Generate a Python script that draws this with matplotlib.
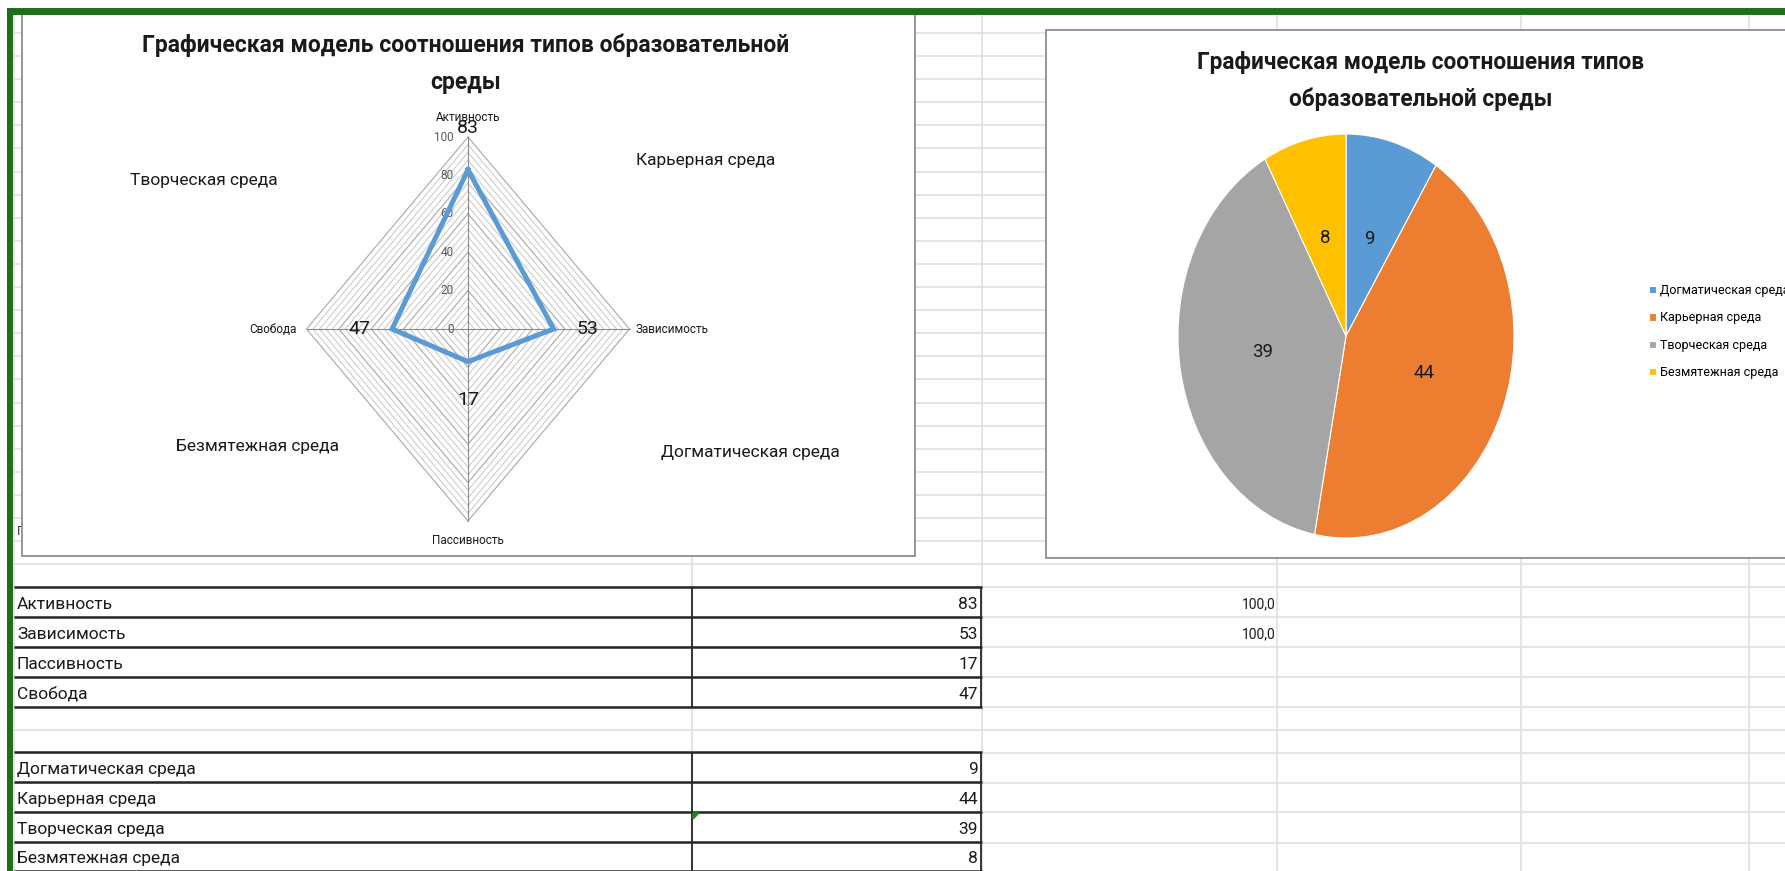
import numpy as np
import matplotlib
matplotlib.use("Agg")
import matplotlib.pyplot as plt
from matplotlib.patches import Rectangle, Polygon

# --- data -------------------------------------------------------------
radar_axes = ["Активность", "Зависимость", "Пассивность", "Свобода"]
radar_values = [83, 53, 17, 47]
radar_ticks = [0, 20, 40, 60, 80, 100]

env_types = ["Догматическая среда", "Карьерная среда",
             "Творческая среда", "Безмятежная среда"]
env_values = [9, 44, 39, 8]
env_colors = ["#5B9BD5", "#ED7D31", "#A5A5A5", "#FFC000"]

side_values = ["100,0", "100,0"]

title = "Графическая модель соотношения типов образовательной среды"

# --- page -------------------------------------------------------------
W, H = 1785, 871
plt.rcParams["font.family"] = ["Roboto", "DejaVu Sans"]
TXT = "#1a1a1a"
GRID = "#e0e0e0"
GREEN = "#1d6f1d"

fig = plt.figure(figsize=(W / 100, H / 100), dpi=100)
bg = fig.add_axes([0, 0, 1, 1])
bg.set_xlim(0, W)
bg.set_ylim(H, 0)
bg.axis("off")


def px_axes(x0, y0, x1, y1):
    return fig.add_axes([x0 / W, 1 - y1 / H, (x1 - x0) / W, (y1 - y0) / H])


# spreadsheet grid
rows = list(33 + 23.1 * np.arange(25)) + [617, 647, 677, 707, 730, 753, 783, 812, 843]
bg.hlines(rows, 13, W, color=GRID, lw=1.2, zorder=1)
bg.vlines([14, 692, 982, 1277, 1521, 1749], 14, H, color=GRID, lw=1.2, zorder=1)

# clipped cell text behind the left chart
bg.text(17, 531, "Г", fontsize=9, color="#3a2a4a", va="center", zorder=2)

# chart frames
bg.add_patch(Rectangle((22, 13), 893, 543, fc="white", ec="#8f8f8f", lw=1.3, zorder=3))
bg.add_patch(Rectangle((1046, 30), 800, 528, fc="white", ec="#8f8f8f", lw=1.3, zorder=3))

# tables
tab1 = [587, 617, 647, 677, 707]
tab2 = [752, 782, 812, 842, 871]
for lines in (tab1, tab2):
    bg.hlines(lines, 14, 982, color="#262626", lw=1.8, zorder=4)
    bg.vlines([692, 981], lines[0], lines[-1], color="#262626", lw=1.3, zorder=4)

for i, (name, val) in enumerate(zip(radar_axes, radar_values)):
    y = (tab1[i] + tab1[i + 1]) / 2 + 2
    bg.text(17, y, name, fontsize=12.5, color=TXT, va="center", zorder=5)
    bg.text(978, y, str(val), fontsize=12.5, color=TXT, va="center", ha="right", zorder=5)
for i, (name, val) in enumerate(zip(env_types, env_values)):
    y = (tab2[i] + tab2[i + 1]) / 2 + 2
    bg.text(17, y, name, fontsize=12.5, color=TXT, va="center", zorder=5)
    bg.text(978, y, str(val), fontsize=12.5, color=TXT, va="center", ha="right", zorder=5)
for i, s in enumerate(side_values):
    y = (tab1[i] + tab1[i + 1]) / 2 + 2
    bg.text(1276, y, s, fontsize=10, color=TXT, va="center", ha="right", zorder=5)

# small green error marker in a cell corner
bg.add_patch(Polygon([[693, 813], [699, 813], [693, 819]], color="#1d8a1d", zorder=5))

# green selection frame
bg.hlines(11.5, 7, W, color=GREEN, lw=5, zorder=10)
bg.vlines(10, 8, H, color=GREEN, lw=4.3, zorder=10)

# --- radar chart ------------------------------------------------------
words = title.split()
bg.text(466, 45, " ".join(words[:5]), fontsize=16.5, fontweight="bold",
        color=TXT, ha="center", va="center", zorder=6)
bg.text(466, 82, words[5], fontsize=16.5, fontweight="bold",
        color=TXT, ha="center", va="center", zorder=6)

# quadrant names
quad_pos = {"Творческая среда": (204, 180), "Карьерная среда": (706, 160),
            "Безмятежная среда": (257, 446), "Догматическая среда": (750, 452)}
for name, (x, y) in quad_pos.items():
    bg.text(x, y, name, fontsize=12.5, color=TXT, ha="center", va="center", zorder=6)

rad = px_axes(306.5, 137, 629.5, 521)
rad.set_xlim(-100, 100)
rad.set_ylim(-100, 100)
rad.axis("off")

theta = np.deg2rad(np.arange(len(radar_axes)) * 360 / len(radar_axes))
sx, sy = np.sin(theta), np.cos(theta)
cx, cy = np.append(sx, sx[0]), np.append(sy, sy[0])

for r in range(4, 101, 4):
    major = r % 20 == 0
    rad.plot(r * cx, r * cy, color="#a8a8a8" if major else "#c2c2c2",
             lw=0.8 if major else 0.65, clip_on=False, zorder=1)
for x, y in zip(sx, sy):
    rad.plot([0, 100 * x], [0, 100 * y], color="#8c8c8c", lw=0.8, clip_on=False, zorder=2)

vals = np.array(radar_values, dtype=float)
rad.plot(np.append(vals * sx, vals[0] * sx[0]), np.append(vals * sy, vals[0] * sy[0]),
         color="#5B9BD5", lw=3.6, solid_joinstyle="miter", clip_on=False, zorder=4)

for t in radar_ticks:
    rad.text(-9, t, str(t), fontsize=8.5, color="#595959", ha="right", va="center")

axis_label_r = [110, 104, 110, 106]
axis_ha = ["center", "left", "center", "right"]
for name, r, x, y, ha in zip(radar_axes, axis_label_r, sx, sy, axis_ha):
    rad.text(r * x, r * y, name, fontsize=8.5, color=TXT, ha=ha, va="center")

data_label_r = [104.7, 73.7, 37, 67.5]
for v, r, x, y in zip(radar_values, data_label_r, sx, sy):
    rad.text(r * x, r * y, str(v), fontsize=14, color=TXT, ha="center", va="center", zorder=5)

# --- pie chart --------------------------------------------------------
bg.text(1421, 62, " ".join(words[:4]), fontsize=16.3, fontweight="bold",
        color=TXT, ha="center", va="center", zorder=6)
bg.text(1421, 99, " ".join(words[4:]), fontsize=16.3, fontweight="bold",
        color=TXT, ha="center", va="center", zorder=6)

pie = px_axes(1178, 134, 1514, 538)
total = sum(env_values)
wedges, _, autotexts = pie.pie(
    env_values, colors=env_colors, startangle=90, counterclock=False,
    autopct=lambda p: f"{p * total / 100:.0f}", pctdistance=0.5,
    wedgeprops=dict(edgecolor="white", linewidth=0.8),
    textprops=dict(fontsize=13.5, color=TXT))
pie.set_aspect("auto")
pie.set_xlim(-1, 1)
pie.set_ylim(-1, 1)

fig.legend(wedges, env_types, loc="upper left",
           bbox_to_anchor=(1649 / W, 1 - 284 / H), frameon=False,
           fontsize=9, handlelength=0.55, handleheight=0.55,
           handletextpad=0.35, labelspacing=1.15, borderpad=0, borderaxespad=0)

fig.savefig("out.png", dpi=100, facecolor="white")
